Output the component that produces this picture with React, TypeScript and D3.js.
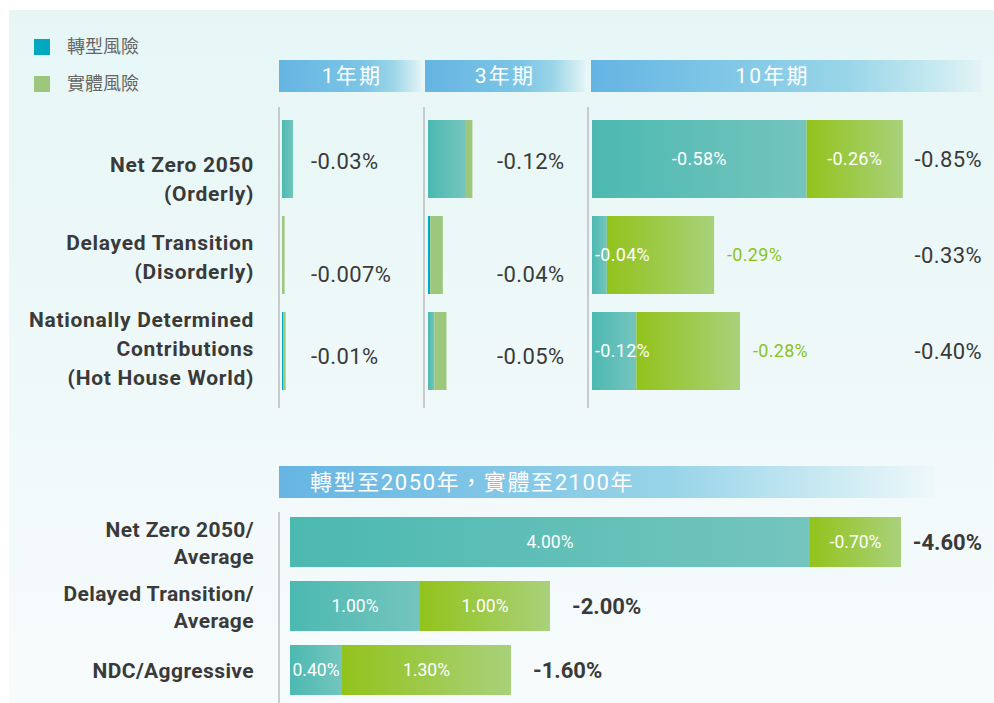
import React from "react";
import * as d3 from "d3";

// ---- data ----
const legendLabels = ["轉型風險", "實體風險"];
const horizons = ["1年期", "3年期", "10年期"];
const scenarioLines = [
  ["Net Zero 2050", "(Orderly)"],
  ["Delayed Transition", "(Disorderly)"],
  ["Nationally Determined", "Contributions", "(Hot House World)"],
];
// transition / physical risk by horizon (percentage points, magnitude)
const transition1y = [0.03, 0.0, 0.004];
const physical1y = [0.0, 0.007, 0.006];
const total1y = ["-0.03%", "-0.007%", "-0.01%"];
const transition3y = [0.1, 0.006, 0.017];
const physical3y = [0.02, 0.034, 0.033];
const total3y = ["-0.12%", "-0.04%", "-0.05%"];
const transition10y = [0.58, 0.04, 0.12];
const physical10y = [0.26, 0.29, 0.28];
const total10y = ["-0.85%", "-0.33%", "-0.40%"];

const longTitle = "轉型至2050年，實體至2100年";
const longScenarioLines = [
  ["Net Zero 2050/", "Average"],
  ["Delayed Transition/", "Average"],
  ["NDC/Aggressive"],
];
const transitionLong = [4.0, 1.0, 0.4];
const physicalLong = [0.7, 1.0, 1.3];
const transitionLongLabels = ["4.00%", "1.00%", "0.40%"];
const physicalLongLabels = ["-0.70%", "1.00%", "1.30%"];
const totalLong = ["-4.60%", "-2.00%", "-1.60%"];

// ---- layout ----
const W = 994;
const H = 703;
const TEAL = "#00a9c1";
const GREEN = "#9dc77c";
const GREEN_TEXT = "#8cc220";
const DARK = "#3a3a3a";
const NUM_FONT = "Roboto, 'Noto Sans', sans-serif";
const CJK_FONT = "Roboto, 'Noto Sans CJK TC', 'Noto Sans CJK SC', sans-serif";

const colX = [279, 424, 588];
const headerSpans = [
  [279, 421],
  [425, 585],
  [591, 982],
];
const headerTextShift = [2, 0, -14];
const barOffset = 3;
const labelBlockShift = [20, 2, -2];
const shortTotalShift = [2, 19, 5];

const yTop = d3.scaleBand<number>().domain([0, 1, 2]).range([120, 390]).paddingInner(0.1875);
const xTop = d3.scaleLinear().domain([0, 1]).range([0, 370]);
const yLong = d3.scaleBand<number>().domain([0, 1, 2]).range([517, 695]).paddingInner(0.21875);
const xLong = d3.scaleLinear().domain([0, 1]).range([0, 130]);
const longX0 = 290;

const fmt = (v: number) => `-${v.toFixed(2)}%`;

function TealRect({ x, y, w, h }: { x: number; y: number; w: number; h: number }) {
  if (w <= 0) return null;
  return <rect x={x} y={y} width={w} height={h} fill={w < 4 ? TEAL : "url(#gTeal)"} />;
}

export default function App() {
  const shortSets = [
    { t: transition1y, p: physical1y, totals: total1y },
    { t: transition3y, p: physical3y, totals: total3y },
  ];
  const bw = yTop.bandwidth();
  const lbw = yLong.bandwidth();

  return (
    <svg
      width={W}
      height={H}
      style={{ position: "absolute", left: 0, top: 0, background: "#ffffff" }}
    >
      <defs>
        <linearGradient id="gBg" x1="0" y1="0" x2="0" y2="1">
          <stop offset="0" stopColor="#e6f6f6" />
          <stop offset="1" stopColor="#f7fbfc" />
        </linearGradient>
        <linearGradient id="gTeal" x1="0" y1="0" x2="1" y2="0">
          <stop offset="0" stopColor="#4cb9b1" />
          <stop offset="1" stopColor="#74c5be" />
        </linearGradient>
        <linearGradient id="gGreen" x1="0" y1="0" x2="1" y2="0">
          <stop offset="0" stopColor="#92c31c" />
          <stop offset="1" stopColor="#a9d17b" />
        </linearGradient>
        <linearGradient id="gHeadShort" x1="0" y1="0" x2="1" y2="0">
          <stop offset="0" stopColor="#65b5e3" />
          <stop offset="0.6" stopColor="#7cc5e6" />
          <stop offset="0.8" stopColor="#9bd5e8" />
          <stop offset="1" stopColor="#e2f3f5" />
        </linearGradient>
        <linearGradient id="gHeadLong" x1="0" y1="0" x2="1" y2="0">
          <stop offset="0" stopColor="#64b4e3" />
          <stop offset="0.3" stopColor="#7cc5e6" />
          <stop offset="0.65" stopColor="#98d5e8" />
          <stop offset="0.88" stopColor="#c6e9f0" />
          <stop offset="1" stopColor="#e4f4f6" />
        </linearGradient>
        <linearGradient id="gHeadBottom" x1="0" y1="0" x2="1" y2="0">
          <stop offset="0" stopColor="#66b5e3" />
          <stop offset="0.6" stopColor="#98d4e8" />
          <stop offset="0.85" stopColor="#cdebf3" />
          <stop offset="1" stopColor="#eef8fa" />
        </linearGradient>
      </defs>

      {/* panel */}
      <rect x={9} y={10} width={W - 9} height={H - 10} fill="url(#gBg)" />

      {/* legend */}
      {legendLabels.map((l, i) => (
        <g key={l} transform={`translate(34, ${39 + i * 37})`}>
          <rect width={16} height={16} fill={i === 0 ? TEAL : GREEN} />
          <text
            x={33}
            y={8}
            dy="0.35em"
            fontFamily={CJK_FONT}
            fontSize={18}
            fill="#666"
          >
            {l}
          </text>
        </g>
      ))}

      {/* horizon headers */}
      {horizons.map((h, i) => {
        const [a, b] = headerSpans[i];
        return (
          <g key={h}>
            <rect
              x={a}
              y={60}
              width={b - a}
              height={32}
              fill={i === 2 ? "url(#gHeadLong)" : "url(#gHeadShort)"}
            />
            <text
              x={(a + b) / 2 + headerTextShift[i]}
              y={76}
              dy="0.35em"
              textAnchor="middle"
              fontFamily={CJK_FONT}
              fontSize={21}
              letterSpacing={2.2}
              fill="#ffffff"
            >
              {h}
            </text>
          </g>
        );
      })}

      {/* column dividers */}
      {colX.map((x) => (
        <line key={x} x1={x} x2={x} y1={107} y2={408} stroke="#bdbdbd" strokeWidth={1.5} />
      ))}

      {/* scenario labels */}
      {scenarioLines.map((lines, i) => {
        const cy = (yTop(i) as number) + bw / 2 + labelBlockShift[i];
        const lh = 29;
        const y0 = cy - ((lines.length - 1) * lh) / 2;
        return (
          <text
            key={i}
            textAnchor="end"
            fontFamily={NUM_FONT}
            fontWeight={700}
            fontSize={21}
            letterSpacing={0.7}
            fill={DARK}
          >
            {lines.map((ln, j) => (
              <tspan key={j} x={254} y={y0 + j * lh} dy="0.35em">
                {ln}
              </tspan>
            ))}
          </text>
        );
      })}

      {/* 1-year and 3-year columns */}
      {shortSets.map((s, c) => {
        const x0 = colX[c] + barOffset + (c === 1 ? 1 : 0);
        return (
          <g key={c}>
            {s.t.map((tv, i) => {
              const y = yTop(i) as number;
              const tw = xTop(tv);
              const pw = xTop(s.p[i]);
              return (
                <g key={i}>
                  <TealRect x={x0} y={y} w={tw} h={bw} />
                  {pw > 0 && <rect x={x0 + tw} y={y} width={pw} height={bw} fill={GREEN} />}
                  <text
                    x={c === 0 ? 311 : 497}
                    y={y + bw / 2 + shortTotalShift[i]}
                    dy="0.35em"
                    fontFamily={NUM_FONT}
                    fontSize={22}
                    letterSpacing={0.4}
                    fill={DARK}
                  >
                    {s.totals[i]}
                  </text>
                </g>
              );
            })}
          </g>
        );
      })}

      {/* 10-year column */}
      {transition10y.map((tv, i) => {
        const x0 = colX[2] + barOffset + 1;
        const y = yTop(i) as number;
        const cy = y + bw / 2;
        const tw = xTop(tv);
        const pw = xTop(physical10y[i]);
        const labelW = 56;
        const fitsInside = tw > labelW + 8;
        return (
          <g key={i}>
            <TealRect x={x0} y={y} w={tw} h={bw} />
            <rect x={x0 + tw} y={y} width={pw} height={bw} fill="url(#gGreen)" />
            <text
              x={fitsInside ? x0 + tw / 2 : x0 + 3}
              y={cy}
              dy="0.35em"
              textAnchor={fitsInside ? "middle" : "start"}
              fontFamily={NUM_FONT}
              fontSize={18}
              letterSpacing={0.3}
              fill="#ffffff"
            >
              {fmt(tv)}
            </text>
            <text
              x={fitsInside ? x0 + tw + pw / 2 : x0 + tw + pw + 13}
              y={cy}
              dy="0.35em"
              textAnchor={fitsInside ? "middle" : "start"}
              fontFamily={NUM_FONT}
              fontSize={18}
              letterSpacing={0.3}
              fill={fitsInside ? "#ffffff" : GREEN_TEXT}
            >
              {fmt(physical10y[i])}
            </text>
            <text
              x={982}
              y={cy}
              dy="0.35em"
              textAnchor="end"
              fontFamily={NUM_FONT}
              fontSize={22}
              letterSpacing={0.4}
              fill={DARK}
            >
              {total10y[i]}
            </text>
          </g>
        );
      })}

      {/* long-horizon header */}
      <rect x={279} y={466} width={656} height={32} fill="url(#gHeadBottom)" />
      <text
        x={310}
        y={482}
        dy="0.35em"
        fontFamily={CJK_FONT}
        fontSize={22}
        letterSpacing={1.6}
        fill="#ffffff"
      >
        {longTitle}
      </text>
      <line x1={279} x2={279} y1={512} y2={H} stroke="#bdbdbd" strokeWidth={1.5} />

      {/* long-horizon labels */}
      {longScenarioLines.map((lines, i) => {
        const cy = (yLong(i) as number) + lbw / 2 + 1;
        const lh = 27;
        const y0 = cy - ((lines.length - 1) * lh) / 2;
        return (
          <text
            key={i}
            textAnchor="end"
            fontFamily={NUM_FONT}
            fontWeight={700}
            fontSize={21}
            letterSpacing={0.4}
            fill={DARK}
          >
            {lines.map((ln, j) => (
              <tspan key={j} x={254} y={y0 + j * lh} dy="0.35em">
                {ln}
              </tspan>
            ))}
          </text>
        );
      })}

      {/* long-horizon bars */}
      {transitionLong.map((tv, i) => {
        const y = yLong(i) as number;
        const cy = y + lbw / 2;
        const tw = xLong(tv);
        const pw = xLong(physicalLong[i]);
        const end = longX0 + tw + pw;
        const overflow = end + 22 + 76 > 990;
        return (
          <g key={i}>
            <TealRect x={longX0} y={y} w={tw} h={lbw} />
            <rect x={longX0 + tw} y={y} width={pw} height={lbw} fill="url(#gGreen)" />
            <text
              x={longX0 + tw / 2}
              y={cy}
              dy="0.35em"
              textAnchor="middle"
              fontFamily={NUM_FONT}
              fontSize={17.5}
              fill="#ffffff"
            >
              {transitionLongLabels[i]}
            </text>
            <text
              x={longX0 + tw + pw / 2}
              y={cy}
              dy="0.35em"
              textAnchor="middle"
              fontFamily={NUM_FONT}
              fontSize={17.5}
              fill="#ffffff"
            >
              {physicalLongLabels[i]}
            </text>
            <text
              x={overflow ? 982 : end + 22}
              y={cy}
              dy="0.35em"
              textAnchor={overflow ? "end" : "start"}
              fontFamily={NUM_FONT}
              fontWeight={700}
              fontSize={22}
              fill={DARK}
            >
              {totalLong[i]}
            </text>
          </g>
        );
      })}
    </svg>
  );
}
